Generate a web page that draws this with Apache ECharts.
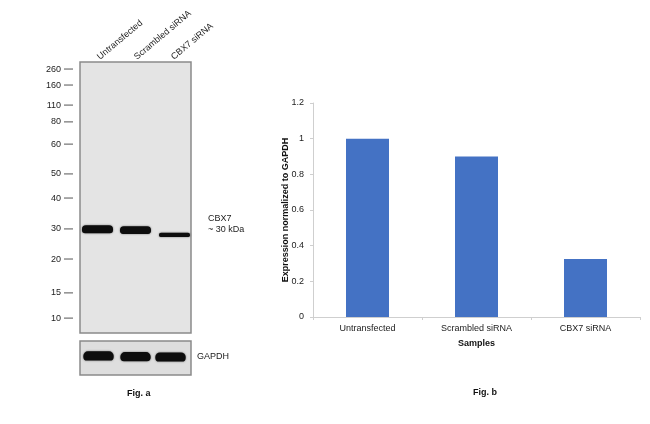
<!DOCTYPE html>
<html>
<head>
<meta charset="utf-8">
<script src="https://cdn.jsdelivr.net/npm/echarts@6/dist/echarts.min.js"></script>
<style>
  html, body { margin: 0; padding: 0; background: #ffffff; }
  #chart { width: 650px; height: 424px; }
</style>
</head>
<body>
<div id="chart"></div>
<script>
// ---------- Data ----------
// Fig. a : western blot
const laneNames = ['Untransfected', 'Scrambled siRNA', 'CBX7 siRNA'];
const markerLabels = ['260', '160', '110', '80', '60', '50', '40', '30', '20', '15', '10'];
// relative migration distance (0 = top of membrane, 1 = bottom)
const markerMigration = [0.026, 0.085, 0.159, 0.221, 0.303, 0.413, 0.502, 0.616, 0.727, 0.852, 0.945];
const cbx7Migration = [0.617, 0.620, 0.638];
const cbx7Signal = [1.0, 0.95, 0.5];
const gapdhMigration = [0.44, 0.46, 0.47];
const gapdhSignal = [1.0, 1.0, 1.0];

// Fig. b : quantification
const sampleNames = ['Untransfected', 'Scrambled siRNA', 'CBX7 siRNA'];
const expressionValues = [1.0, 0.9, 0.325];
const yTicks = [0, 0.2, 0.4, 0.6, 0.8, 1, 1.2];

// ---------- Chart ----------
const FONT = '"Liberation Sans", Arial, sans-serif';
const chart = echarts.init(document.getElementById('chart'), null, { renderer: 'canvas' });

function bandRenderer(migrations, signals, fullThickness, widthFrac, offsets) {
  return function (params, api) {
    const i = params.dataIndex;
    const c = api.coord([i, migrations[i]]);
    const bandW = api.size([1, 0])[0] * widthFrac;
    const h = Math.max(3, api.size([0, fullThickness * signals[i]])[1]);
    const dx = offsets ? offsets[i] : 0;
    return {
      type: 'rect',
      shape: { x: c[0] - bandW / 2 + dx, y: c[1] - h / 2, width: bandW, height: h, r: [h / 2, h / 2, h / 2.5, h / 2.5] },
      style: { fill: '#0d0d0d', shadowBlur: 2, shadowColor: 'rgba(0,0,0,0.55)' }
    };
  };
}

const option = {
  animation: false,
  backgroundColor: '#ffffff',
  textStyle: { fontFamily: FONT },
  grid: [
    { left: 80, top: 62, width: 111, height: 271, show: true, backgroundColor: '#e4e4e4', borderColor: '#8a8a8a', borderWidth: 1.5 },
    { left: 80, top: 341, width: 111, height: 34, show: true, backgroundColor: '#dedede', borderColor: '#8a8a8a', borderWidth: 1.5 },
    { left: 313, top: 103, width: 327, height: 214 }
  ],
  xAxis: [
    {
      gridIndex: 0, type: 'category', data: laneNames, position: 'top',
      axisLine: { show: false }, axisTick: { show: false },
      axisLabel: { rotate: 40, fontSize: 9, color: '#222', margin: 4, fontFamily: FONT, interval: 0 }
    },
    { gridIndex: 1, type: 'category', data: laneNames, show: false },
    {
      gridIndex: 2, type: 'category', data: sampleNames,
      name: 'Samples', nameLocation: 'middle', nameGap: 22, nameMoveOverlap: false,
      nameTextStyle: { fontSize: 9, fontWeight: 'bold', color: '#111', fontFamily: FONT },
      axisLine: { lineStyle: { color: '#cfcfcf', width: 1 } },
      axisTick: { show: true, length: 3, lineStyle: { color: '#cfcfcf' } },
      axisLabel: { fontSize: 9, color: '#222', margin: 7, fontFamily: FONT }
    }
  ],
  yAxis: [
    { gridIndex: 0, type: 'value', min: 0, max: 1, inverse: true, show: false },
    { gridIndex: 1, type: 'value', min: 0, max: 1, inverse: true, show: false },
    {
      gridIndex: 2, type: 'value', min: 0, max: 1.2, interval: 0.2,
      name: 'Expression normalized to GAPDH', nameLocation: 'middle', nameGap: 23, nameMoveOverlap: false,
      nameTextStyle: { fontSize: 9, fontWeight: 'bold', color: '#111', fontFamily: FONT },
      axisLine: { show: true, lineStyle: { color: '#cfcfcf', width: 1 } },
      axisTick: { show: true, length: 3, lineStyle: { color: '#cfcfcf' } },
      splitLine: { show: false },
      axisLabel: {
        fontSize: 9, color: '#222', margin: 9, fontFamily: FONT,
        formatter: function (v) { const t = yTicks.find(x => Math.abs(x - v) < 1e-6); return t === undefined ? '' : String(t); }
      }
    }
  ],
  series: [
    // molecular weight markers
    {
      type: 'custom', xAxisIndex: 0, yAxisIndex: 0, silent: true,
      data: markerMigration.map((m, i) => [0, m, markerLabels[i]]),
      renderItem: function (params, api) {
        const i = params.dataIndex;
        const c = api.coord([0, markerMigration[i]]);
        const left = c[0] - api.size([1, 0])[0] / 2;
        return {
          type: 'group',
          children: [
            { type: 'line', shape: { x1: left - 16, y1: c[1], x2: left - 7, y2: c[1] }, style: { stroke: '#555', lineWidth: 1 } },
            { type: 'text', style: { x: left - 19, y: c[1], text: markerLabels[i], align: 'right', verticalAlign: 'middle', fontSize: 9, fill: '#222', fontFamily: FONT } }
          ]
        };
      }
    },
    // CBX7 bands
    {
      type: 'custom', xAxisIndex: 0, yAxisIndex: 0, silent: true,
      data: cbx7Migration.map((m, i) => [i, m]),
      renderItem: bandRenderer(cbx7Migration, cbx7Signal, 0.03, 0.84, [-1, 0, 2])
    },
    // GAPDH bands
    {
      type: 'custom', xAxisIndex: 1, yAxisIndex: 1, silent: true,
      data: gapdhMigration.map((m, i) => [i, m]),
      renderItem: bandRenderer(gapdhMigration, gapdhSignal, 0.27, 0.82, [0, 0, -2])
    },
    // Fig. b bars
    {
      type: 'bar', xAxisIndex: 2, yAxisIndex: 2,
      data: expressionValues,
      barWidth: 43,
      itemStyle: { color: '#4472c4' }
    }
  ],
  graphic: [
    { type: 'text', left: 208, top: 213, style: { text: 'CBX7\n~ 30 kDa', fontSize: 9, lineHeight: 11, fill: '#222', fontFamily: FONT } },
    { type: 'text', left: 197, top: 352, style: { text: 'GAPDH', fontSize: 9, fill: '#222', fontFamily: FONT } },
    { type: 'text', left: 127, top: 389, style: { text: 'Fig. a', fontSize: 9, fontWeight: 'bold', fill: '#111', fontFamily: FONT } },
    { type: 'text', left: 473, top: 388, style: { text: 'Fig. b', fontSize: 9, fontWeight: 'bold', fill: '#111', fontFamily: FONT } }
  ]
};

chart.setOption(option);
</script>
</body>
</html>
